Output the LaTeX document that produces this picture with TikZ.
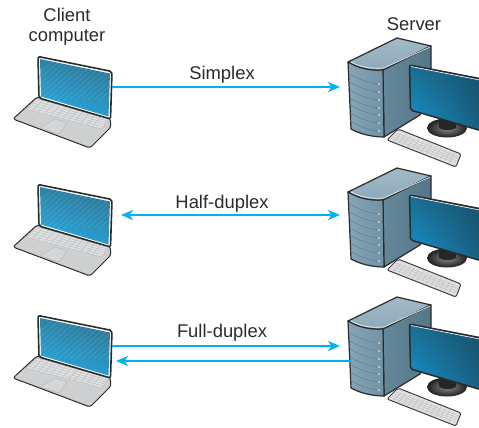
\documentclass[tikz,border=0pt]{standalone}
\usepackage{fontspec}
\setmainfont{Liberation Sans}
\usetikzlibrary{arrows.meta,shadings}
\definecolor{linkblue}{HTML}{00B2F0}
\definecolor{ink}{HTML}{2B2B2B}
\definecolor{bodygrey}{HTML}{CDCFD0}
\definecolor{keygrey}{HTML}{DFE1E2}
\definecolor{keyline}{HTML}{B8BABC}
\definecolor{scrdark}{HTML}{2F7391}
\definecolor{scrlight}{HTML}{27ABE2}
\definecolor{topa}{HTML}{A3BAC7}
\definecolor{topb}{HTML}{8CA9B9}
\definecolor{sidea}{HTML}{648899}
\definecolor{sideb}{HTML}{537688}
\definecolor{fronta}{HTML}{86A5B6}
\definecolor{frontb}{HTML}{6F92A4}
\definecolor{drawer}{HTML}{5F7E8F}
\definecolor{monll}{HTML}{1496D4}
\definecolor{monul}{HTML}{1B6E92}
\definecolor{monur}{HTML}{174E66}
\definecolor{monlr}{HTML}{1A5F7E}
\tikzset{
  lbl/.style={font=\fontsize{18.4}{20}\selectfont, text=ink, inner sep=0pt, align=center},
  link/.style={draw=linkblue, line width=2.7pt, -{Stealth[length=12pt,width=10pt,inset=3.5pt]}},
  linkboth/.style={draw=linkblue, line width=2.7pt, {Stealth[length=12pt,width=10pt,inset=3.5pt]}-{Stealth[length=12pt,width=10pt,inset=3.5pt]}},
  outl/.style={draw=ink, line width=1.2pt, line join=round},
  laptop/.pic={
    \path[draw=ink, line width=1pt, fill=bodygrey, rounded corners=2.5pt] (37,97) -- (110,118) -- (111,127) -- (90,148) -- (13,119) -- cycle;
    \path[fill=keygrey, draw=keyline, line width=.4pt] (37,99) -- (109,119) -- (102,129) -- (26,109) -- cycle;
    \foreach \t in {.2,.4,.6,.8}
      \draw[keyline, line width=.4pt] ({37+\t*(26-37)},{99+\t*(109-99)}) -- ({109+\t*(102-109)},{119+\t*(129-119)});
    \foreach \t in {.08,.16,...,.93}
      \draw[keyline, line width=.35pt] ({37+\t*(109-37)},{99+\t*(119-99)}) -- ({26+\t*(102-26)},{109+\t*(129-109)});
    \path[fill=bodygrey!85!white, draw=keyline, line width=.5pt] (55,119) -- (67,123) -- (59,134) -- (40,128) -- cycle;
    \path[outl, line width=1.6pt, fill=white, rounded corners=2pt] (38,56.5) -- (112,71.5) -- (110.5,119) -- (39,98) -- cycle;
    \begin{scope}
      \clip (40,59) -- (110,73.5) -- (108.5,116.5) -- (41,96.5) -- cycle;
      \shade[left color=scrdark, right color=scrlight, shading angle=-20] (36,55) rectangle (114,120);
      \foreach \d in {-30,-24,...,90}
        \draw[white, opacity=.13, line width=.7pt] (40+\d,100) -- (90+\d,55);
    \end{scope}
    \coordinate (-east) at (112,87);
    \coordinate (-gap) at (121,87);
    \coordinate (-low) at (116,102);
  },
  server/.pic={
    \path[outl, top color=topa, bottom color=topb] (348,62) -- (397,38) -- (431,46) -- (383,70) .. controls (370,71) and (358,68) .. (348,62) -- cycle;
    \path[outl, left color=sidea, right color=sideb] (383,70) -- (431,46) -- (431,90) -- (420,115) -- (384,137) -- cycle;
    \path[outl, left color=fronta, right color=frontb] (348,62) .. controls (358,68) and (370,71) .. (383,70) -- (384,137) .. controls (372,137) and (360,134) .. (351,129) -- cycle;
    \draw[white!75!topa, line width=.7pt] (351,62) .. controls (360,67) and (370,69) .. (384,68) -- (430,47);
    \foreach \y in {84,92,100,108,115,123,131}{
      \draw[drawer, line width=.5pt] (350,\y-10) .. controls (358,\y-5) and (368,\y-1) .. (379,\y);
      \fill[white] (379,\y) circle (.9);
    }
    \shade[inner color=black!45, outer color=black!88] (447,128) ellipse (20 and 9.5);
    \fill[black!85] (439,118) rectangle (456,128);
    \fill[black!85] (447.5,127) ellipse (8.5 and 3);
    \path[draw=ink, line width=1.5pt, rounded corners=2pt, shading=bilinear interpolation, lower left=monll, upper left=monul, upper right=monur, lower right=monlr] (409.5,65) -- (482,79) -- (482,131) -- (410.5,110) -- cycle;
    \draw[white, line width=.6pt] (411,66.5) -- (482,80.5);
    \path[draw=black!75, line width=1pt, fill=keygrey, rounded corners=2pt] (398,129) -- (461,154) -- (456,167) -- (387,140) -- cycle;
    \foreach \t in {.2,.4,.6,.8}
      \draw[keyline, line width=.35pt] ({397+\t*(389-397)},{131+\t*(140-131)}) -- ({460+\t*(455-460)},{155+\t*(165-155)});
    \foreach \t in {.07,.14,...,.95}
      \draw[keyline, line width=.35pt] ({397+\t*(460-397)},{131+\t*(155-131)}) -- ({389+\t*(455-389)},{140+\t*(165-140)});
    \coordinate (-west) at (340,87);
    \coordinate (-side) at (351,102);
  }
}
\begin{document}
\begin{tikzpicture}[x=1pt,y=-1pt]
\useasboundingbox (0,0) rectangle (479,428);
\pic (lapa) at (0,0) {laptop};
\pic (lapb) at (0,128) {laptop};
\pic (lapc) at (0,259) {laptop};
\pic (srva) at (0,0) {server};
\pic (srvb) at (0,130) {server};
\pic (srvc) at (0,259) {server};
\node[lbl] (client) at (67,27) {Client\\computer};
\node[lbl] (serverlbl) at (414,24) {Server};
\node[lbl] (simplex) at (222,75) {Simplex};
\node[lbl] (half) at (222,204) {Half-duplex};
\node[lbl] (full) at (222,333) {Full-duplex};
\draw[link] (lapa-east) -- (srva-west);
\draw[linkboth] (lapb-gap) -- (srvb-west |- lapb-gap);
\draw[link] (lapc-east) -- (srvc-west);
\draw[link] (srvc-side) -- (lapc-low);
\end{tikzpicture}
\end{document}
